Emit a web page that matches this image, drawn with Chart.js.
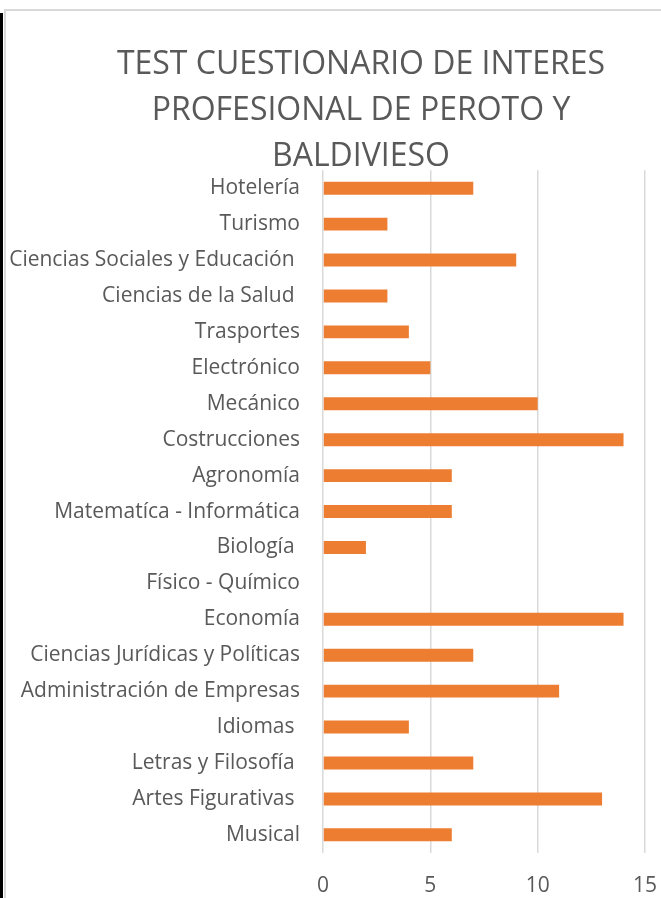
<!DOCTYPE html>
<html>
<head>
<meta charset="utf-8">
<script src="https://cdn.jsdelivr.net/npm/chart.js@4/dist/chart.umd.min.js"></script>
<style>
  body { margin: 0; background: #fff; overflow: hidden; }
  #edge { position: absolute; left: 0; top: 13px; width: 3px; height: 885px; background: #000; }
  #box { position: absolute; left: 4px; top: 9px; width: 657px; height: 889px;
         border-top: 2px solid #d9d9d9; border-left: 2px solid #d9d9d9; overflow: hidden; }
  #wrap { position: absolute; left: 0; top: 0; width: 710px; height: 887px; }
</style>
</head>
<body>
<div id="edge"></div>
<div id="box"><div id="wrap"><canvas id="chart"></canvas></div></div>
<script>
// datos del gráfico
const titleLines = ['TEST CUESTIONARIO DE INTERES', 'PROFESIONAL DE PEROTO Y', 'BALDIVIESO']
const categories = [
  'Hotelería', 'Turismo', 'Ciencias Sociales y Educación ', 'Ciencias de la Salud ',
  'Trasportes', 'Electrónico', 'Mecánico', 'Costrucciones', 'Agronomía',
  'Matematíca - Informática', 'Biología ', 'Físico - Químico', 'Economía',
  'Ciencias Jurídicas y Políticas', 'Administración de Empresas', 'Idiomas ',
  'Letras y Filosofía ', 'Artes Figurativas ', 'Musical'
]
const values = [7, 3, 9, 3, 4, 5, 10, 14, 6, 6, 2, 0, 14, 7, 11, 4, 7, 13, 6]
const xTicks = [0, 5, 10, 15]

const textColor = '#595959'
const fontFamily = "'Open Sans', sans-serif"

const ctx = document.getElementById('chart')
new Chart(ctx, {
  type: 'bar',
  data: {
    labels: categories,
    datasets: [{
      data: values,
      backgroundColor: '#ED7D31',
      barPercentage: 0.36,
      categoryPercentage: 1
    }]
  },
  options: {
    indexAxis: 'y',
    responsive: true,
    maintainAspectRatio: false,
    animation: false,
    // el padding izquierdo centra el título como en el original
    layout: { padding: { left: 71, right: 71, top: 0, bottom: -22 } },
    plugins: {
      legend: { display: false },
      tooltip: { enabled: false },
      title: {
        display: true,
        text: titleLines,
        color: textColor,
        font: { family: fontFamily, size: 32, weight: 'normal', lineHeight: 1.44 },
        padding: { top: 31, bottom: -10 }
      }
    },
    scales: {
      x: {
        min: xTicks[0],
        max: xTicks[xTicks.length - 1],
        afterBuildTicks: (scale) => { scale.ticks = xTicks.map(v => ({ value: v })) },
        grid: { color: '#d9d9d9', lineWidth: 1.5, drawTicks: false },
        border: { display: false },
        ticks: { color: textColor, font: { family: fontFamily, size: 21 }, padding: 21, maxRotation: 0 }
      },
      y: {
        grid: { display: false, drawTicks: false },
        border: { display: false },
        ticks: { color: textColor, font: { family: fontFamily, size: 21 }, padding: 23, autoSkip: false },
        afterFit: (scale) => {
          scale.width = 246
          // las etiquetas largas salen del eje hacia el padding, no recortar
          scale._computeLabelArea = () => undefined
        }
      }
    }
  }
})
</script>
</body>
</html>
